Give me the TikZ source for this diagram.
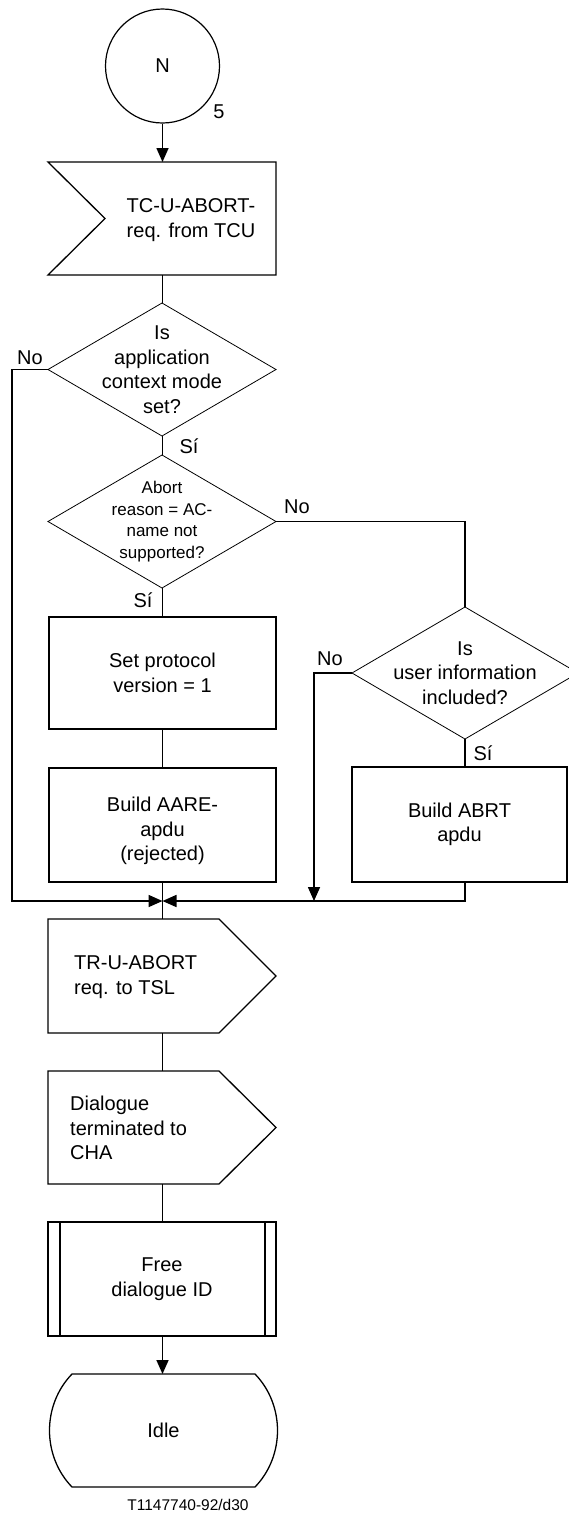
\documentclass[tikz,border=0pt]{standalone}
\usepackage{fontspec}
\setmainfont{Liberation Sans}
\usetikzlibrary{arrows.meta,calc}
\begin{document}
\begin{tikzpicture}[x=1pt,y=-1pt,
  conn/.style={line width=1.6pt},
  arr/.style={line width=1.6pt,-{Triangle[length=14pt,width=12pt]}},
  boxline/.style={line width=1.3pt},
  diaml/.style={line width=0.8pt},
  txt/.style={font=\fontsize{20}{24.5}\selectfont, align=center, inner sep=0pt},
  shapebox/.style={draw=none, inner sep=0pt, outer sep=0pt, font=\fontsize{20}{24.5}\selectfont, align=center},
  procbox/.style={shapebox, draw, line width=1.3pt},
  lbl/.style={font=\fontsize{20}{24}\selectfont, inner sep=0pt}
]
\useasboundingbox (0,0) rectangle (568,1513);

% start connector
\node[draw, circle, line width=1.2pt, minimum size=114pt, inner sep=0pt, font=\fontsize{20}{24}\selectfont] (c) at (162.5,66) {N};
\node[lbl] (five) at (219,112) {5};

% input signal
\node[shapebox, minimum width=228pt, minimum height=113pt] (in) at (162,218.5) {};
\draw[boxline] (in.north west) -- (in.north east) -- (in.south east) -- (in.south west) -- ($(in.west)+(57,0)$) -- cycle;
\node[txt] (inT) at (191,220) {TC-U-ABORT-\\req. from TCU};

% decision 1
\node[shapebox, minimum width=228pt, minimum height=133pt] (d1) at (162,369.5) {Is\\application\\context mode\\set?};
\draw[diaml] (d1.north) -- (d1.east) -- (d1.south) -- (d1.west) -- cycle;
\node[lbl] (no1) at (30,358) {No};
\node[lbl] (si1) at (189,446) {Sí};

% decision 2
\node[shapebox, minimum width=228pt, minimum height=133pt, font=\fontsize{17}{21.5}\selectfont] (d2) at (162,521.5) {Abort\\reason = AC-\\name not\\supported?};
\draw[diaml] (d2.north) -- (d2.east) -- (d2.south) -- (d2.west) -- cycle;
\node[lbl] (no2) at (297,507) {No};
\node[lbl] (si2) at (143,600) {Sí};

% boxes left column
\node[procbox, minimum width=227pt, minimum height=112pt] (b1) at (162.5,673) {Set protocol\\version = 1};
\node[procbox, minimum width=227pt, minimum height=114pt] (b2) at (162.5,825) {};
\node[txt] (b2T) at (162.5,831) {Build AARE-\\apdu\\(rejected)};

% decision 3
\node[shapebox, minimum width=226pt, minimum height=132pt] (d3) at (465,673) {Is\\user information\\included?};
\draw[diaml] (d3.north) -- (d3.east) -- (d3.south) -- (d3.west) -- cycle;
\node[lbl] (no3) at (330,659) {No};
\node[lbl] (si3) at (483,753) {Sí};

% box right
\node[procbox, minimum width=215pt, minimum height=115pt] (b3) at (459.5,824.5) {Build ABRT\\apdu};

% output signals
\node[shapebox, minimum width=228pt, minimum height=114pt] (o1) at (162,976) {};
\draw[boxline] (o1.north west) -- ($(o1.north east)+(-57,0)$) -- (o1.east) -- ($(o1.south east)+(-57,0)$) -- (o1.south west) -- cycle;
\node[txt, align=left, anchor=west] (o1T) at (74,977) {TR-U-ABORT\\req. to TSL};

\node[shapebox, minimum width=228pt, minimum height=113pt] (o2) at (162,1127.5) {};
\draw[boxline] (o2.north west) -- ($(o2.north east)+(-57,0)$) -- (o2.east) -- ($(o2.south east)+(-57,0)$) -- (o2.south west) -- cycle;
\node[txt, align=left, anchor=west] (o2T) at (70,1128) {Dialogue\\terminated to\\CHA};

% procedure
\node[procbox, minimum width=228pt, minimum height=114pt] (p) at (162,1279) {Free\\dialogue ID};
\draw[boxline] ($(p.north west)+(12,0)$) -- ($(p.south west)+(12,0)$);
\draw[boxline] ($(p.north east)+(-11,0)$) -- ($(p.south east)+(-11,0)$);

% state
\node[shapebox, minimum width=183pt, minimum height=113pt] (idle) at (163.5,1430.5) {Idle};
\draw[boxline] (idle.north west) -- (idle.north east) .. controls +(30,31) and +(30,-31) .. (idle.south east) -- (idle.south west) .. controls +(-30,-31) and +(-30,31) .. (idle.north west) -- cycle;

\node[font=\fontsize{15.5}{18}\selectfont, inner sep=0pt] (cap) at (188,1505) {T1147740-92/d30};

% connectors
\coordinate (m) at (162.5,901);
\coordinate (L) at (12,901);
\coordinate (N3) at (314,901);
\draw[arr] (c.south) -- (in.north -| c.south);
\draw[conn] (in.south -| c.south) -- (d1.north -| c.south);
\draw[conn] (d1.south -| c.south) -- (d2.north -| c.south);
\draw[conn] (d2.south -| c.south) -- (b1.north);
\draw[conn] (b1.south) -- (b2.north);
\draw[conn] (d2.east) -| (d3.north);
\draw[conn] (d3.south) -- (b3.north -| d3.south);
\draw[conn] (b2.south) -- (o1.north -| b2.south);
\draw[arr] (d1.west) -| (L) -- (m);
\draw[arr] (b3.south -| d3.south) |- (m);
\draw[arr] (d3.west) -| (N3);
\draw[conn] (o1.south -| b2.south) -- (o2.north -| b2.south);
\draw[conn] (o2.south -| b2.south) -- (p.north -| b2.south);
\draw[arr] (p.south -| b2.south) -- (idle.north -| b2.south);
\end{tikzpicture}
\end{document}
